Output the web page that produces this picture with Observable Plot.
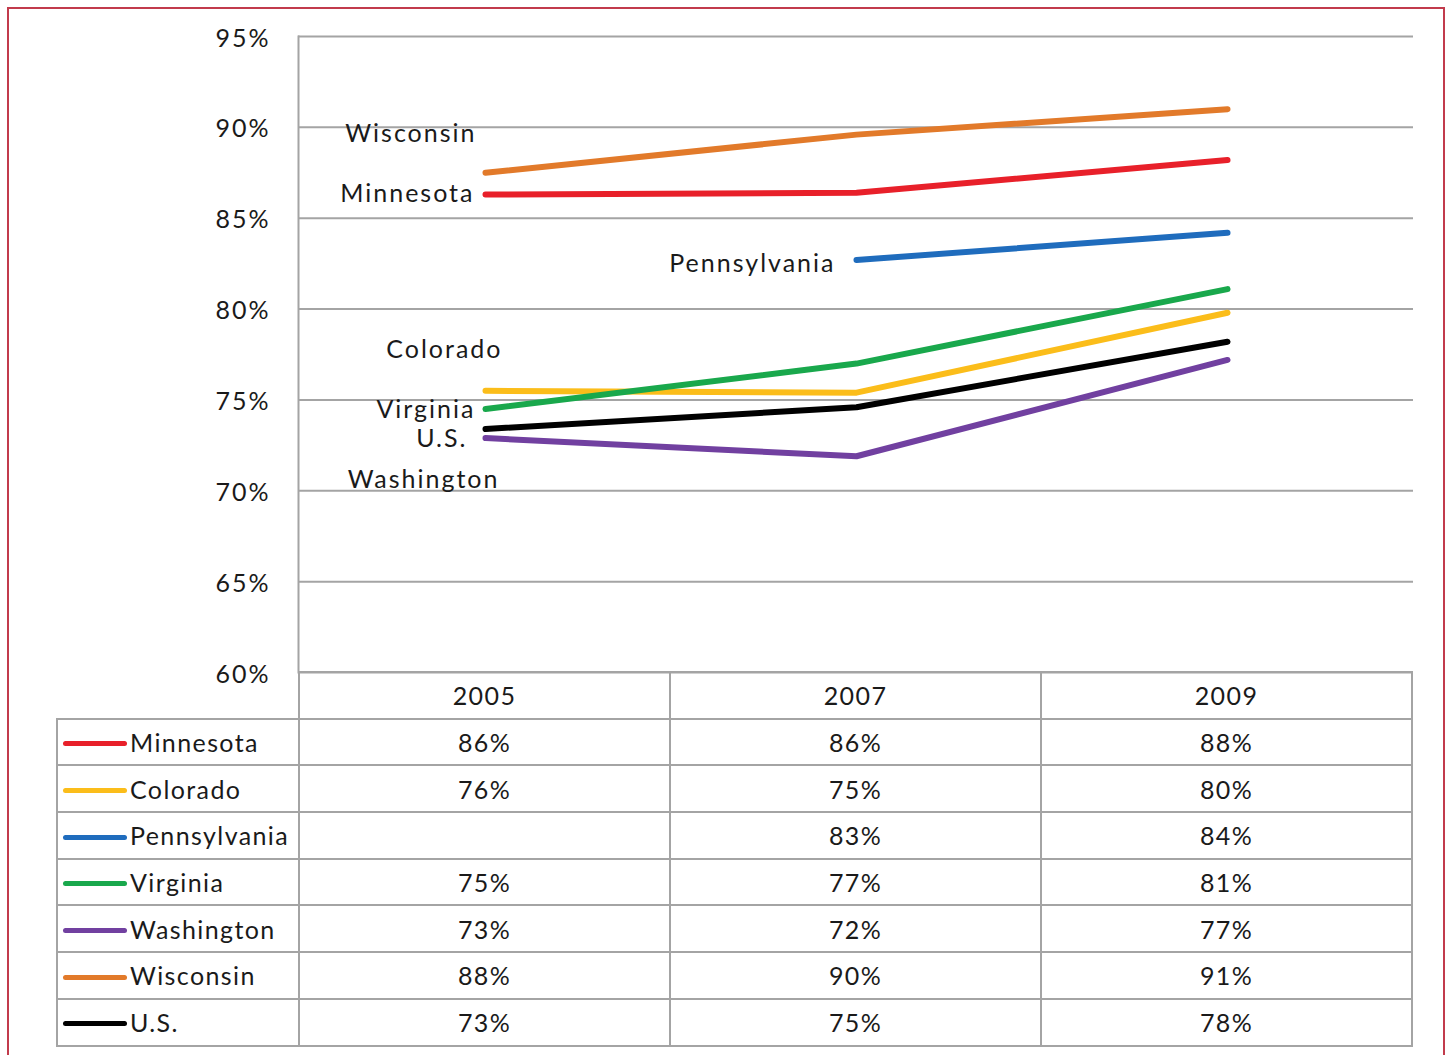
<!DOCTYPE html>
<html>
<head>
<meta charset="utf-8">
<script src="https://cdn.jsdelivr.net/npm/d3@7"></script>
<script src="https://cdn.jsdelivr.net/npm/@observablehq/plot@0.6"></script>
<style>
  html, body { margin: 0; padding: 0; background: #fff; }
  #wrap { position: relative; width: 1448px; height: 1055px; overflow: hidden; font-family: Lato, "Open Sans", sans-serif; color: #1a1a1a; }
  #frame { position: absolute; left: 7px; top: 7px; width: 1434px; height: 1100px; border: 2px solid #c23b4c; box-sizing: content-box; pointer-events: none; }
  #chart { position: absolute; left: 0; top: 0; }
  #tbl { position: absolute; left: 56px; top: 671px; border-collapse: collapse; font-size: 25px; letter-spacing: 1.4px; }
  #tbl td { border: 2px solid #a4a4a4; padding: 0; height: 44.7px; text-align: center; vertical-align: middle; }
  #tbl td.name { width: 240px; text-align: left; white-space: nowrap; }
  #tbl td.num { width: 369px; }
  #tbl tr.head td.blank { border-left: none; border-top: none; border-bottom: 2px solid #a4a4a4; }
  .sw { display: inline-block; width: 64px; height: 5px; border-radius: 3px; vertical-align: middle; margin: 0 3px 0 5px; position: relative; top: -2px; }
</style>
</head>
<body>
<div id="wrap">
  <div id="chart"></div>
  <table id="tbl"></table>
  <div id="frame"></div>
</div>
<script>
// ---- data ----
const years = ["2005", "2007", "2009"];
const seriesNames = ["Minnesota", "Colorado", "Pennsylvania", "Virginia", "Washington", "Wisconsin", "U.S."];
const minnesota = [86.3, 86.4, 88.2];
const colorado = [75.5, 75.4, 79.8];
const pennsylvania = [null, 82.7, 84.2];
const virginia = [74.5, 77.0, 81.1];
const washington = [72.9, 71.9, 77.2];
const wisconsin = [87.5, 89.6, 91.0];
const us = [73.4, 74.6, 78.2];
const yTicks = [60, 65, 70, 75, 80, 85, 90, 95];

// ---- styling ----
const colors = ["#e8202a", "#fbbd1a", "#1f6cbd", "#19a84c", "#7140a0", "#e27a2a", "#000000"];
const labelPlacement = {
  "Wisconsin":    {year: "2005", dx: -9,  dy: -39},
  "Minnesota":    {year: "2005", dx: -11, dy: -1},
  "Pennsylvania": {year: "2007", dx: -21, dy: 4},
  "Colorado":     {year: "2005", dx: 17,  dy: -41},
  "Virginia":     {year: "2005", dx: -10, dy: 1},
  "U.S.":         {year: "2005", dx: -18, dy: 10},
  "Washington":   {year: "2005", dx: 14,  dy: 42}
};

const seriesValues = [minnesota, colorado, pennsylvania, virginia, washington, wisconsin, us];
const long = [];
seriesNames.forEach((s, i) => years.forEach((y, j) => {
  long.push({series: s, year: y, value: seriesValues[i][j]});
}));

const labelMarks = seriesNames.map((s, i) => {
  const p = labelPlacement[s];
  const j = years.indexOf(p.year);
  return Plot.text([{series: s, year: p.year, value: seriesValues[i][j]}], {
    x: "year", y: "value", text: "series", textAnchor: "end",
    dx: p.dx, dy: p.dy, fill: "#1a1a1a", fontSize: 25
  });
});

const chart = Plot.plot({
  width: 1448,
  height: 700,
  marginLeft: 298,
  marginRight: 35,
  marginTop: 36,
  marginBottom: 28,
  style: {fontFamily: "Lato, 'Open Sans', sans-serif", fontSize: "25px", letterSpacing: "2px", color: "#1a1a1a", background: "transparent"},
  x: {type: "point", domain: years, padding: 0.5, axis: null},
  y: {domain: [60, 95], axis: null},
  color: {domain: seriesNames, range: colors},
  marks: [
    Plot.gridY(yTicks, {stroke: "#a4a4a4", strokeOpacity: 1, strokeWidth: 2}),
    Plot.frame({anchor: "left", stroke: "#a4a4a4", strokeWidth: 2}),
    Plot.axisY(yTicks, {label: null, tickSize: 0, tickPadding: 28, dy: 2, tickFormat: d => d + "%", fontSize: 25, fill: "#1a1a1a", style: {letterSpacing: "0.5px"}}),
    Plot.line(long, {x: "year", y: "value", z: "series", stroke: "series", strokeWidth: 6, strokeLinecap: "round", strokeLinejoin: "round", filter: d => d.value != null}),
    ...labelMarks
  ]
});
document.getElementById("chart").appendChild(chart);

// ---- data table below the chart ----
const tbl = document.getElementById("tbl");
const head = document.createElement("tr");
head.className = "head";
head.innerHTML = `<td class="name blank"></td>` + years.map(y => `<td class="num">${y}</td>`).join("");
tbl.appendChild(head);
seriesNames.forEach((s, i) => {
  const tr = document.createElement("tr");
  const cells = seriesValues[i].map(v => `<td class="num">${v == null ? "" : Math.round(v) + "%"}</td>`).join("");
  tr.innerHTML = `<td class="name"><span class="sw" style="background:${colors[i]}"></span>${s}</td>` + cells;
  tbl.appendChild(tr);
});
</script>
</body>
</html>
